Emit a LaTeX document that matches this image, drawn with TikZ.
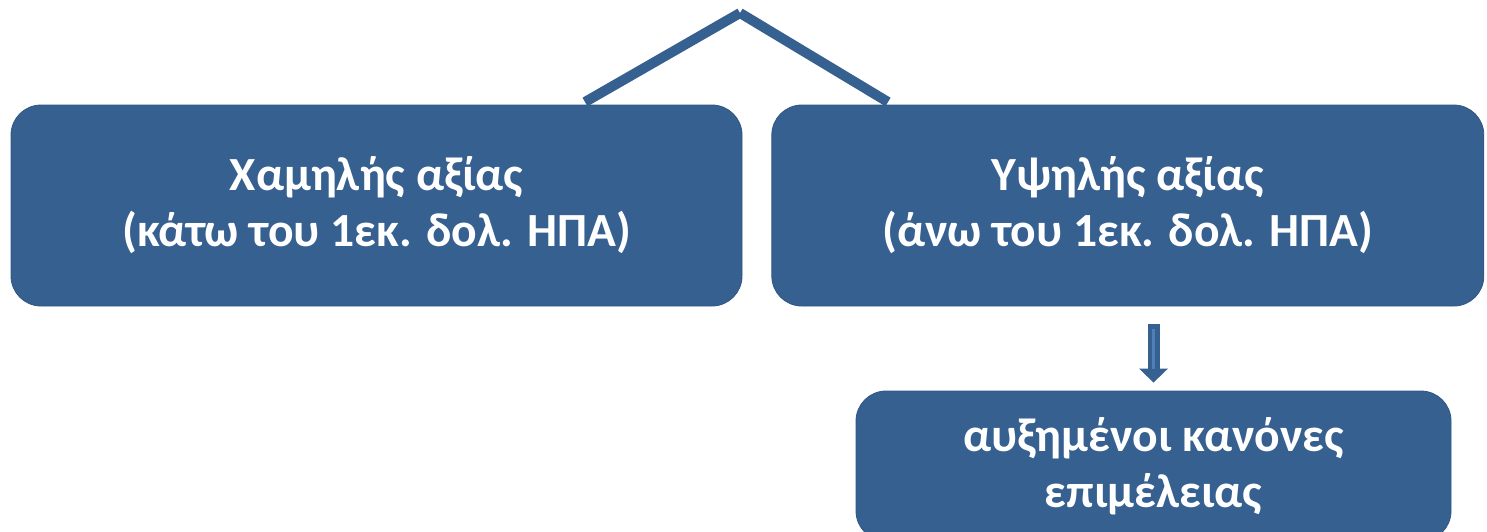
\documentclass[tikz,border=0pt]{standalone}
\usepackage{fontspec}
\setmainfont{Carlito}
\usepackage{xcolor}
\definecolor{acc}{HTML}{36608F}
\definecolor{lite}{HTML}{4F7FB8}
\usepackage{tikz}
\usetikzlibrary{arrows.meta,positioning,calc}
\tikzset{
  box/.style={fill=acc,draw=acc!90!black,line width=0.4pt,rounded corners=15pt,
    text=white,font=\fontsize{23.8}{28}\selectfont\bfseries,align=center,inner sep=0pt},
  bigbox/.style={box,minimum width=365.5pt,minimum height=100.5pt},
  peak/.style={draw=acc,line width=5pt,line cap=butt},
  blockarr/.style={draw=acc,line width=6pt,-{Triangle[length=7pt,width=14pt]}},
}
\begin{document}
\begin{tikzpicture}[x=0.5pt,y=-0.5pt]
\useasboundingbox (0,0) rectangle (1487,531);
\node[bigbox] (low) at (376.5,205.5) {Χαμηλής αξίας\\(κάτω του 1εκ. δολ. ΗΠΑ)};
\node[bigbox,minimum width=356pt,right=14.5pt of low] (high) {Υψηλής αξίας\\(άνω του 1εκ. δολ. ΗΠΑ)};
\node[box,minimum width=297.5pt,minimum height=75pt] (rules) at (1153.5,466) {αυξημένοι κανόνες\\επιμέλειας};
% roof over the two boxes
\coordinate (apex) at (740,13);
\coordinate (lfoot) at (585,102);
\coordinate (rfoot) at (888,102);
\draw[peak] (lfoot) -- (apex);
\draw[peak] (apex) -- (rfoot);
% arrow to the rules box
\draw[blockarr] ($(rules.north |- high.south)+(0,-9pt)$) -- ([yshift=4pt]rules.north);
\draw[lite,line width=1.2pt,shorten <=2.5pt,shorten >=7pt] ($(rules.north |- high.south)+(0,-9pt)$) -- ([yshift=4pt]rules.north);
\end{tikzpicture}
\end{document}
